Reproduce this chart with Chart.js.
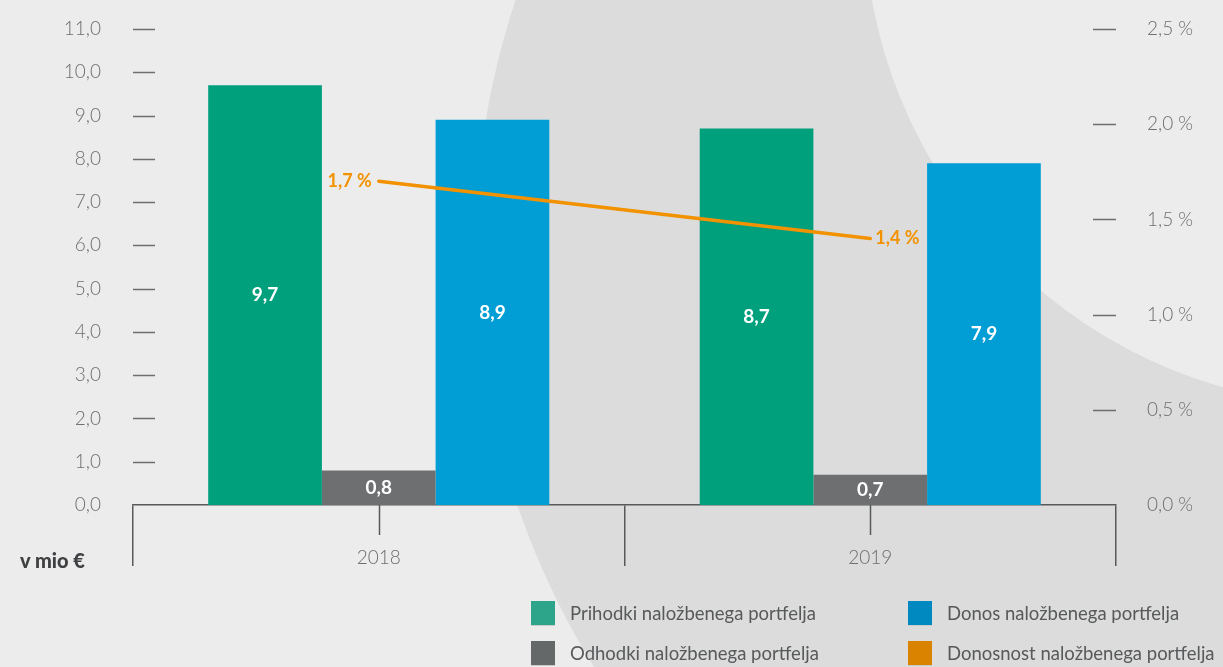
<!DOCTYPE html>
<html>
<head>
<meta charset="utf-8">
<title>Naložbeni portfelj</title>
<script src="https://cdn.jsdelivr.net/npm/chart.js@4.4.0/dist/chart.umd.min.js"></script>
<style>
  html, body { margin: 0; padding: 0; background: #ececec; }
  #wrap { position: relative; width: 1223px; height: 667px; overflow: hidden; }
  #appChart { position: absolute; left: 0; top: 0; }
  .unit {
    position: absolute; left: 20px; top: 548px;
    font: 900 20px Lato, sans-serif; color: #3f4042;
  }
  .legend {
    position: absolute; left: 531px; top: 600px;
    display: grid; grid-template-columns: 377px auto; row-gap: 15px;
    font: 400 18.5px Lato, sans-serif; color: #58595b;
  }
  .legend-item { display: flex; align-items: center; height: 25px; }
  .legend-box {
    width: 24px; height: 24px; margin-right: 15px;
    box-shadow: 0 1px 0 #c9cbca;
  }
</style>
</head>
<body>
<div id="wrap">
  <canvas id="appChart" width="1223" height="667"></canvas>
  <div class="unit">v mio €</div>
  <div class="legend" id="legend"></div>
</div>
<script>
/************************************************************************
 *                              CHART DATA
 ************************************************************************/
const years = ["2018", "2019"];
const prihodki = [9.7, 8.7];
const odhodki = [0.8, 0.7];
const donos = [8.9, 7.9];
const donosnost = [1.7, 1.4];

const seriesNames = [
  "Prihodki naložbenega portfelja",
  "Odhodki naložbenega portfelja",
  "Donos naložbenega portfelja",
  "Donosnost naložbenega portfelja",
];

/************************************************************************
 *                              STYLE
 ************************************************************************/
const barColors = ["#00a07d", "#6d6f71", "#009ed5"];
const lineColor = "#f39200";
const legendColors = ["#2da58a", "#646869", "#0089c0", "#d98300"];
const tickColor = "#6d6e70";
const tickFont = { family: "Lato, sans-serif", size: 19, weight: "300" };

const fmt = (v) => v.toFixed(1).replace(".", ",");

/************************************************************************
 *                              PLUGINS
 ************************************************************************/

// light backdrop with the big grey crescent behind the chart
const backdrop = {
  id: "backdrop",
  beforeDraw(chart) {
    const ctx = chart.ctx;
    ctx.save();
    ctx.fillStyle = "#ececec";
    ctx.fillRect(0, 0, chart.width, chart.height);
    ctx.fillStyle = "#dbdcdb";
    ctx.beginPath();
    ctx.arc(1265, 250, 790, 0, Math.PI * 2);
    ctx.fill();
    ctx.fillStyle = "#ececec";
    ctx.beginPath();
    ctx.arc(1358, -88, 494, 0, Math.PI * 2);
    ctx.fill();
    ctx.restore();
  },
};

// short dashes next to the tick labels + middle ticks on the x axis
const axisMarks = {
  id: "axisMarks",
  afterDraw(chart) {
    const ctx = chart.ctx;
    const area = chart.chartArea;
    const y = chart.scales.y;
    const y1 = chart.scales.y1;
    const x = chart.scales.x;
    ctx.save();
    ctx.strokeStyle = tickColor;
    ctx.lineWidth = 1.5;
    ctx.beginPath();
    y.ticks.forEach((t) => {
      if (t.value === 0) return;
      const py = Math.round(y.getPixelForValue(t.value)) + 0.5;
      ctx.moveTo(area.left, py);
      ctx.lineTo(area.left + 22, py);
    });
    y1.ticks.forEach((t) => {
      if (t.value === 0) return;
      const py = Math.round(y1.getPixelForValue(t.value)) + 0.5;
      ctx.moveTo(area.right - 23, py);
      ctx.lineTo(area.right, py);
    });
    ctx.stroke();

    ctx.strokeStyle = "#58595b";
    ctx.beginPath();
    years.forEach((_, i) => {
      const px = Math.round(x.getPixelForValue(i)) + 0.5;
      ctx.moveTo(px, area.bottom);
      ctx.lineTo(px, area.bottom + 30);
    });
    ctx.stroke();
    ctx.restore();
  },
};

// value labels on the bars and at the line ends
const valueLabels = {
  id: "valueLabels",
  afterDatasetsDraw(chart) {
    const ctx = chart.ctx;
    ctx.save();
    ctx.textBaseline = "middle";
    chart.data.datasets.forEach((ds, i) => {
      const meta = chart.getDatasetMeta(i);
      meta.data.forEach((el, j) => {
        const v = ds.data[j];
        if (ds.type === "line") {
          ctx.fillStyle = lineColor;
          ctx.font = "700 18px Lato, sans-serif";
          if (j === 0) {
            ctx.textAlign = "right";
            ctx.fillText(fmt(v) + " %", el.x - 7, el.y);
          } else {
            ctx.textAlign = "left";
            ctx.fillText(fmt(v) + " %", el.x + 5, el.y);
          }
        } else {
          ctx.fillStyle = "#ffffff";
          ctx.font = "700 19px Lato, sans-serif";
          ctx.textAlign = "center";
          ctx.fillText(fmt(v), el.x, (el.y + el.base) / 2);
        }
      });
    });
    ctx.restore();
  },
};

/************************************************************************
 *                              CONFIG
 ************************************************************************/
function barSet(label, data, color) {
  return {
    type: "bar",
    label: label,
    data: data,
    backgroundColor: color,
    yAxisID: "y",
    categoryPercentage: 0.694,
    barPercentage: 1.0,
    order: 1,
  };
}

// fixed axis width, and no extra label padding pushing the plot down
function fixWidth(width) {
  return function (scale) {
    scale.width = width;
    scale.paddingTop = 0;
    scale.paddingBottom = 0;
  };
}

const config = {
  data: {
    labels: years,
    datasets: [
      {
        type: "line",
        label: seriesNames[3],
        data: donosnost,
        yAxisID: "y1",
        borderColor: lineColor,
        borderWidth: 3.5,
        borderCapStyle: "round",
        pointRadius: 0,
        tension: 0,
        order: 0,
      },
      barSet(seriesNames[0], prihodki, barColors[0]),
      barSet(seriesNames[1], odhodki, barColors[1]),
      barSet(seriesNames[2], donos, barColors[2]),
    ],
  },
  options: {
    responsive: false,
    animation: false,
    layout: { padding: { top: 29 } },
    plugins: {
      legend: { display: false },
      tooltip: { enabled: false },
    },
    scales: {
      x: {
        grid: {
          offset: true,
          drawOnChartArea: false,
          drawTicks: true,
          tickLength: 61,
          color: "#58595b",
          lineWidth: 1.5,
        },
        border: { display: true, color: "#58595b", width: 1.5 },
        ticks: { padding: -20, color: tickColor, font: tickFont },
        afterFit(scale) { scale.height = 162; },
      },
      y: {
        position: "left",
        min: 0,
        max: 11,
        grid: { display: false, drawTicks: false },
        border: { display: false },
        ticks: {
          stepSize: 1,
          padding: 32,
          color: tickColor,
          font: tickFont,
          callback: (v) => fmt(v),
        },
        afterFit: fixWidth(133),
      },
      y1: {
        position: "right",
        min: 0,
        max: 2.5,
        grid: { display: false, drawTicks: false },
        border: { display: false },
        ticks: {
          stepSize: 0.5,
          padding: 31,
          color: tickColor,
          font: tickFont,
          callback: (v) => fmt(v) + " %",
        },
        afterFit: fixWidth(107),
      },
    },
  },
  plugins: [backdrop, axisMarks, valueLabels],
};

/************************************************************************
 *                              RENDER
 ************************************************************************/
const legendOrder = [0, 2, 1, 3];
const legendEl = document.getElementById("legend");
legendOrder.forEach((k) => {
  const item = document.createElement("div");
  item.className = "legend-item";
  const box = document.createElement("span");
  box.className = "legend-box";
  box.style.background = legendColors[k];
  const txt = document.createElement("span");
  txt.textContent = seriesNames[k];
  item.appendChild(box);
  item.appendChild(txt);
  legendEl.appendChild(item);
});

new Chart(document.getElementById("appChart"), config);
</script>
</body>
</html>
